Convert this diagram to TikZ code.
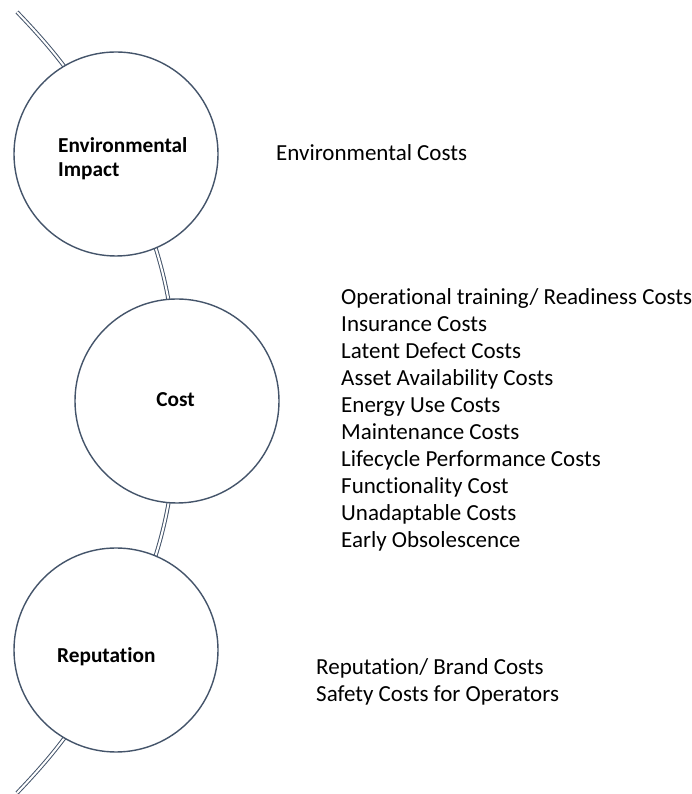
\documentclass[tikz,border=0pt]{standalone}
\usepackage{fontspec}
\setmainfont[Ligatures=NoCommon]{Carlito}
\usetikzlibrary{backgrounds}
\definecolor{edge}{HTML}{44546A}
\tikzset{
  bubble/.style={circle,draw=edge,line width=1.4pt,fill=white,minimum size=204pt,inner sep=0pt},
  conn/.style={draw=edge,line width=1pt,double=white,double distance=2pt},
  item/.style={anchor=base west,inner sep=0pt,font=\fontsize{23}{27}\selectfont},
  head/.style={inner sep=0pt,font=\fontsize{21.3}{24}\selectfont\bfseries}
}
\begin{document}
\begin{tikzpicture}[x=1pt,y=1pt]
\useasboundingbox (0,0) rectangle (692,794);
\node[bubble] (env) at (116,640) {};
\node[bubble] (cost) at (177,393) {};
\node[bubble] (rep) at (116,144) {};
\coordinate (top) at (17,782);
\coordinate (bot) at (17,1);
\begin{scope}[on background layer]
\draw[conn] (top) to[bend left=9] (env.center);
\draw[conn] (env.center) to[bend left=13] (cost.center);
\draw[conn] (cost.center) to[bend left=13] (rep.center);
\draw[conn] (rep.center) to[bend left=9] (bot);
\end{scope}
\node[head,anchor=base west] (envA) at (58,641) {Environmental};
\node[head,anchor=base west] (envB) at (58,617) {Impact};
\node[head,anchor=base] (costL) at (175.5,387) {Cost};
\node[head,anchor=base west] (repL) at (57,131) {Reputation};
\node[item] (envc) at (276,633) {Environmental Costs};
\foreach \t [count=\i from 0] in {Operational training/ Readiness Costs,Insurance Costs,Latent Defect Costs,Asset Availability Costs,Energy Use Costs,Maintenance Costs,Lifecycle Performance Costs,Functionality Cost,Unadaptable Costs,Early Obsolescence}
  \node[item] (c\i) at (341,489-27*\i) {\t};
\node[item] (r0) at (316,119) {Reputation/ Brand Costs};
\node[item] (r1) at (316,92) {Safety Costs for Operators};
\end{tikzpicture}
\end{document}
